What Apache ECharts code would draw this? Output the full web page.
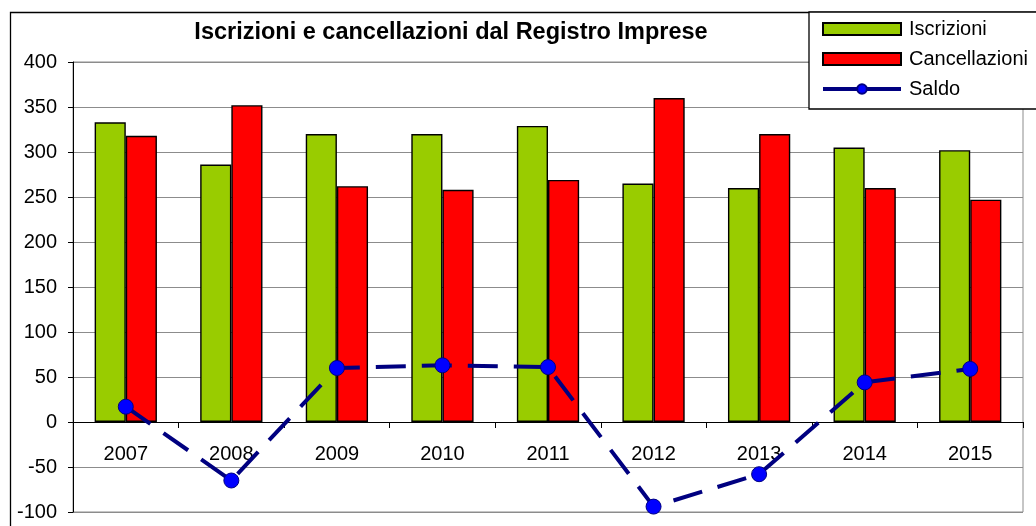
<!DOCTYPE html>
<html>
<head>
<meta charset="utf-8">
<script src="https://cdn.jsdelivr.net/npm/echarts@6/dist/echarts.min.js"></script>
<style>
  html, body { margin: 0; padding: 0; background: #fff; }
  #chart { width: 1036px; height: 526px; }
</style>
</head>
<body>
<div id="chart"></div>
<script>
// Registro Imprese: yearly registrations, cancellations and net balance
const years = ['2007', '2008', '2009', '2010', '2011', '2012', '2013', '2014', '2015'];
const iscrizioni = [333, 286, 320, 320, 329, 265, 260, 305, 302];
const cancellazioni = [318, 352, 262, 258, 269, 360, 320, 260, 247];
const saldo = [17, -65, 60, 63, 61, -94, -58, 44, 59];

const FONT = '"Liberation Sans", Arial, Helvetica, sans-serif';

const chart = echarts.init(document.getElementById('chart'), null, { renderer: 'canvas' });

chart.setOption({
  backgroundColor: '#ffffff',
  animation: false,
  textStyle: { fontFamily: FONT, color: '#000' },
  title: {
    text: 'Iscrizioni e cancellazioni dal Registro Imprese',
    left: 451,
    top: 21,
    padding: 0,
    textAlign: 'center',
    textStyle: { fontFamily: FONT, fontSize: 23.5, fontWeight: 'bold', color: '#000', lineHeight: 23 }
  },
  graphic: [
    {
      type: 'rect',
      z: 0,
      silent: true,
      shape: { x: 10.5, y: 12.5, width: 1040, height: 530 },
      style: { fill: 'none', stroke: '#000', lineWidth: 1.3 }
    }
  ],
  legend: {
    orient: 'vertical',
    left: 809,
    top: 12,
    padding: [7, 30, 10, 12],
    itemGap: 10,
    itemWidth: 78,
    itemHeight: 12,
    backgroundColor: '#fff',
    borderColor: '#000',
    borderWidth: 1.3,
    selectedMode: false,
    z: 10,
    textStyle: { fontFamily: FONT, fontSize: 20, lineHeight: 20, color: '#000', padding: [0, 0, 0, 3] },
    data: [
      { name: 'Iscrizioni', icon: 'rect' },
      { name: 'Cancellazioni', icon: 'rect' },
      { name: 'Saldo', lineStyle: { type: 'solid', width: 4 } }
    ]
  },
  grid: {
    left: 73,
    right: 13,
    top: 62,
    bottom: 14,
    containLabel: false,
    outerBoundsMode: 'none',
    show: true,
    borderColor: '#8c8c8c',
    borderWidth: 1,
    backgroundColor: 'transparent'
  },
  xAxis: {
    type: 'category',
    data: years,
    axisLine: { onZero: true, lineStyle: { color: '#000', width: 1 } },
    axisTick: { show: true, length: 6, alignWithLabel: false, lineStyle: { color: '#000' } },
    // year labels sit just under the zero line, above the negative band
    axisLabel: { fontFamily: FONT, fontSize: 20, color: '#000', margin: -68 },
    splitLine: { show: false }
  },
  yAxis: {
    type: 'value',
    min: -100,
    max: 400,
    interval: 50,
    axisLine: { show: true, lineStyle: { color: '#000', width: 1 } },
    axisTick: { show: true, length: 5, lineStyle: { color: '#000' } },
    axisLabel: { fontFamily: FONT, fontSize: 20, color: '#000', margin: 16 },
    splitLine: { show: true, lineStyle: { color: '#8c8c8c', width: 1 } }
  },
  series: [
    {
      name: 'Iscrizioni',
      type: 'bar',
      data: iscrizioni,
      barGap: '0%',
      barCategoryGap: '41%',
      itemStyle: { color: '#99cc00', borderColor: '#000', borderWidth: 1.4 },
      z: 2
    },
    {
      name: 'Cancellazioni',
      type: 'bar',
      data: cancellazioni,
      itemStyle: { color: '#ff0000', borderColor: '#000', borderWidth: 1.4 },
      z: 2
    },
    {
      name: 'Saldo',
      type: 'line',
      data: saldo,
      symbol: 'circle',
      symbolSize: 15,
      z: 5,
      lineStyle: { color: '#000080', width: 4, type: [30, 16] },
      itemStyle: { color: '#0000ff', borderColor: '#000080', borderWidth: 1 }
    }
  ]
});
</script>
</body>
</html>
